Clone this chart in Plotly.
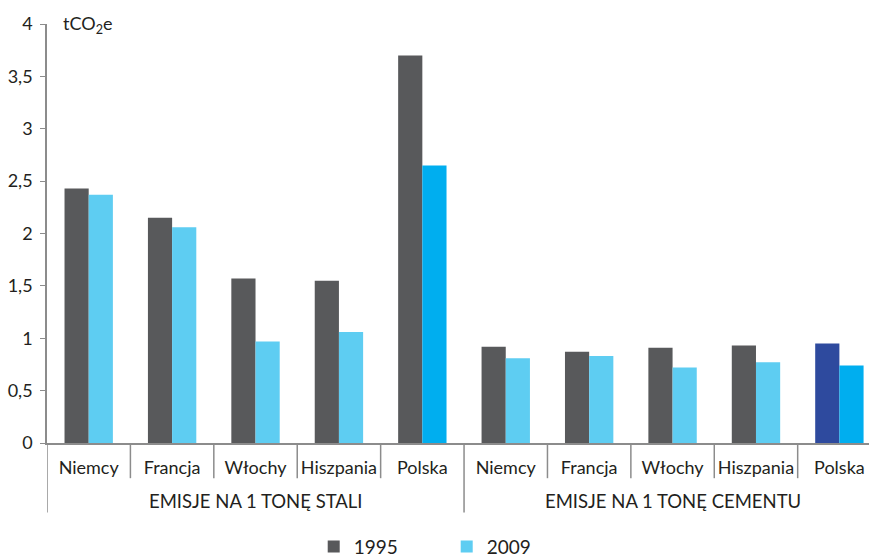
import plotly.graph_objects as go

# Emissions per tonne of product, tCO2e
group_names = ["EMISJE NA 1 TONĘ STALI", "EMISJE NA 1 TONĘ CEMENTU"]
countries = ["Niemcy", "Francja", "Włochy", "Hiszpania", "Polska"] * 2
values_1995 = [2.43, 2.15, 1.57, 1.55, 3.70, 0.92, 0.87, 0.91, 0.93, 0.95]
values_2009 = [2.37, 2.06, 0.97, 1.06, 2.65, 0.81, 0.83, 0.72, 0.77, 0.74]
y_ticks = [0, 0.5, 1, 1.5, 2, 2.5, 3, 3.5, 4]

GRAY = "#58595b"
LIGHT = "#5ecdf2"
BLUE = "#00aeef"
NAVY = "#2e4a9e"
AXIS = "#8c8c8c"
TEXT = "#231f20"

# Poland is highlighted: bright blue for steel 2009, navy/blue for cement
colors_1995 = [GRAY] * 9 + [NAVY]
colors_2009 = [LIGHT] * 4 + [BLUE] + [LIGHT] * 4 + [BLUE]

pos = list(range(len(countries)))
per_group = len(countries) // len(group_names)

fig = go.Figure()
fig.add_trace(go.Bar(x=pos, y=values_1995, name="1995", offsetgroup="1995",
                     showlegend=False, marker=dict(color=colors_1995, line=dict(width=0))))
fig.add_trace(go.Bar(x=pos, y=values_2009, name="2009", offsetgroup="2009",
                     showlegend=False, marker=dict(color=colors_2009, line=dict(width=0))))

# Legend entries with uniform colors (sharing the offset groups)
fig.add_trace(go.Bar(x=[pos[0]], y=[0], name="1995", offsetgroup="1995",
                     marker=dict(color=GRAY, line=dict(width=0)), hoverinfo="skip"))
fig.add_trace(go.Bar(x=[pos[0]], y=[0], name="2009", offsetgroup="2009",
                     marker=dict(color=LIGHT, line=dict(width=0)), hoverinfo="skip"))

# Category dividers below the axis: short between countries, long between groups
short_len = -0.084
long_len = -0.166
for i in range(len(countries)):
    b = i - 0.5
    is_group_edge = i % per_group == 0
    fig.add_shape(type="line", xref="x", yref="paper", x0=b, x1=b,
                  y0=0, y1=long_len if is_group_edge else short_len,
                  line=dict(color=AXIS, width=1.5), layer="above")

# Group captions centred under each set of countries
for g, name in enumerate(group_names):
    center = g * per_group + (per_group - 1) / 2
    fig.add_annotation(text=name, xref="x", yref="paper", x=center, y=-0.138,
                       xanchor="center", yanchor="middle", showarrow=False,
                       font=dict(size=18.5, color=TEXT))

fig.update_layout(
    width=869, height=560,
    margin=dict(l=47, r=0, t=24, b=117, autoexpand=False),
    plot_bgcolor="white", paper_bgcolor="white",
    font=dict(family="Lato", size=18, color=TEXT),
    separators=", ",
    barmode="group", bargap=0.42, bargroupgap=0,
    showlegend=True,
    legend=dict(orientation="h", xref="container", yref="container",
                x=0.361, xanchor="left", y=0.024, yanchor="middle",
                entrywidth=88, font=dict(size=19), itemwidth=30),
    # the last category band runs slightly past the right edge
    xaxis=dict(range=[-0.5, len(countries) - 0.645], tickvals=pos, ticktext=countries,
               tickangle=0, showline=True, linecolor=AXIS, linewidth=1.5,
               ticks="", showgrid=False, zeroline=False, automargin=False,
               tickfont=dict(size=18), ticklabelstandoff=8),
    yaxis=dict(range=[0, 4], tickvals=y_ticks, showgrid=False, zeroline=False,
               showline=True, linecolor=AXIS, linewidth=1.5,
               ticks="outside", ticklen=5, tickcolor=AXIS, automargin=False,
               tickfont=dict(size=18), ticklabelstandoff=4),
)

fig.add_annotation(text="tCO<sub>2</sub>e", xref="paper", yref="paper",
                   x=0.017, y=1.0, xanchor="left", yanchor="middle",
                   showarrow=False, font=dict(size=18))

fig.write_html("out.html")
